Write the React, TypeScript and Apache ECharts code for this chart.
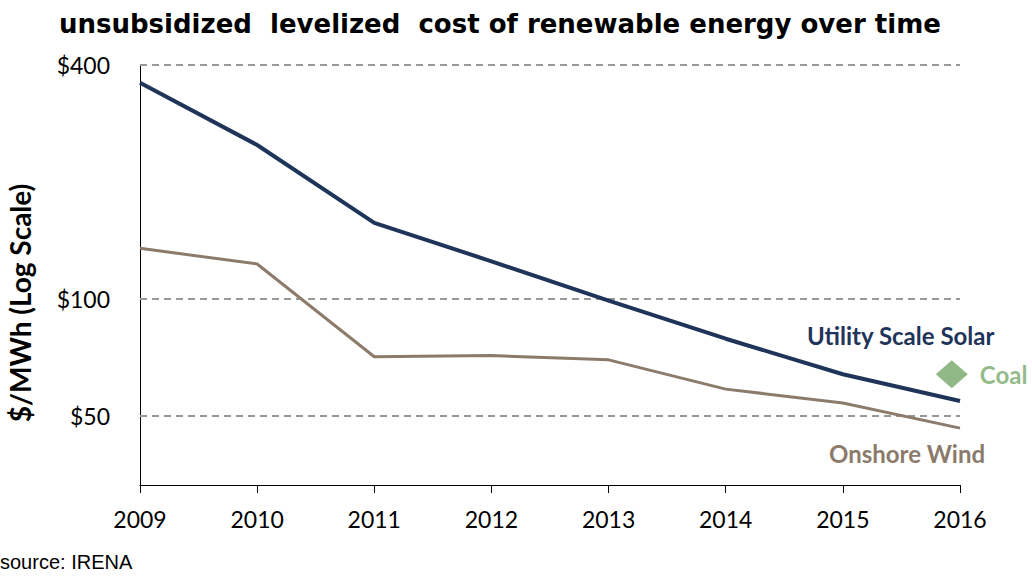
import React, { useEffect, useRef } from "react";
import * as echarts from "echarts";

const years = [2009, 2010, 2011, 2012, 2013, 2014, 2015, 2016];
const solar = [360, 249, 157, 125, 99, 79, 64, 54.6];
const wind = [135, 123, 71, 71.5, 69.7, 58.6, 54, 46.5];
const coal = [[2015.93, 64]];
const yTicks = [400, 100, 50];

export default function App() {
  const ref = useRef<HTMLDivElement>(null);
  useEffect(() => {
    const chart = echarts.init(ref.current!, null, { renderer: "svg" });
    const font = "Lato, 'Open Sans', sans-serif";
    chart.setOption({
      animation: false,
      title: {
        text: "unsubsidized  levelized  cost of renewable energy over time",
        left: 54,
        top: 6,
        textStyle: { fontFamily: "'DejaVu Sans', sans-serif", fontWeight: "bold", fontSize: 26, color: "#000" },
      },
      grid: { left: 140, right: 72, top: 65, bottom: 91, containLabel: false },
      xAxis: {
        type: "value",
        min: 2009,
        max: 2016,
        interval: 1,
        axisLine: { show: true, lineStyle: { color: "#000", width: 1 } },
        axisTick: { show: true, length: 8, lineStyle: { color: "#000" } },
        axisLabel: { color: "#000", fontSize: 23, fontFamily: font, margin: 22, formatter: (v: number) => String(v) },
        splitLine: { show: false },
      },
      yAxis: {
        type: "log",
        logBase: 10,
        min: 33.2,
        max: 400,
        axisLine: { show: true, lineStyle: { color: "#000", width: 1 } },
        axisTick: { show: false },
        axisLabel: { show: false },
        splitLine: { show: false },
      },
      series: [
        {
          name: "Utility Scale Solar",
          type: "line",
          data: years.map((y, i) => [y, solar[i]]),
          symbol: "none",
          lineStyle: { color: "#1f3459", width: 4 },
          z: 4,
          markLine: {
            silent: true,
            symbol: "none",
            lineStyle: { color: "#999", type: [7, 5], width: 2 },
            label: {
              position: "start",
              formatter: (p: any) => "$" + p.value,
              color: "#000",
              fontSize: 23,
              fontFamily: font,
              distance: 30,
            },
            data: yTicks.map((v) => ({ yAxis: v })),
            z: 1,
          },
        },
        {
          name: "Onshore Wind",
          type: "line",
          data: years.map((y, i) => [y, wind[i]]),
          symbol: "none",
          lineStyle: { color: "#8c7b6b", width: 3 },
          z: 3,
        },
        {
          name: "Coal",
          type: "scatter",
          data: coal,
          symbol: "diamond",
          symbolSize: [32, 28],
          itemStyle: { color: "#76a86a" },
          label: {
            show: true,
            position: "right",
            distance: 12,
            formatter: "Coal",
            color: "#76a86a",
            fontWeight: "bold",
            fontSize: 24,
            fontFamily: font,
          },
        },
      ],
      graphic: [
        {
          type: "text",
          x: 20,
          y: 303,
          rotation: Math.PI / 2,
          style: {
            text: "$/MWh (Log Scale)",
            fill: "#000",
            font: `bold 28px ${font}`,
            align: "center",
            verticalAlign: "middle",
          },
        },
        {
          type: "text",
          left: 807,
          top: 323,
          style: { text: "Utility Scale Solar", fill: "#1f3459", font: `bold 24px ${font}` },
        },
        {
          type: "text",
          left: 829,
          top: 441,
          style: { text: "Onshore Wind", fill: "#8c7b6b", font: `bold 24px ${font}` },
        },
        {
          type: "text",
          left: 0,
          top: 552,
          style: { text: "source: IRENA", fill: "#000", font: "20px 'Liberation Sans', Arial, sans-serif" },
        },
      ],
    });
    return () => chart.dispose();
  }, []);
  return <div ref={ref} style={{ width: 1032, height: 576, position: "absolute", left: 0, top: 0 }} />;
}
